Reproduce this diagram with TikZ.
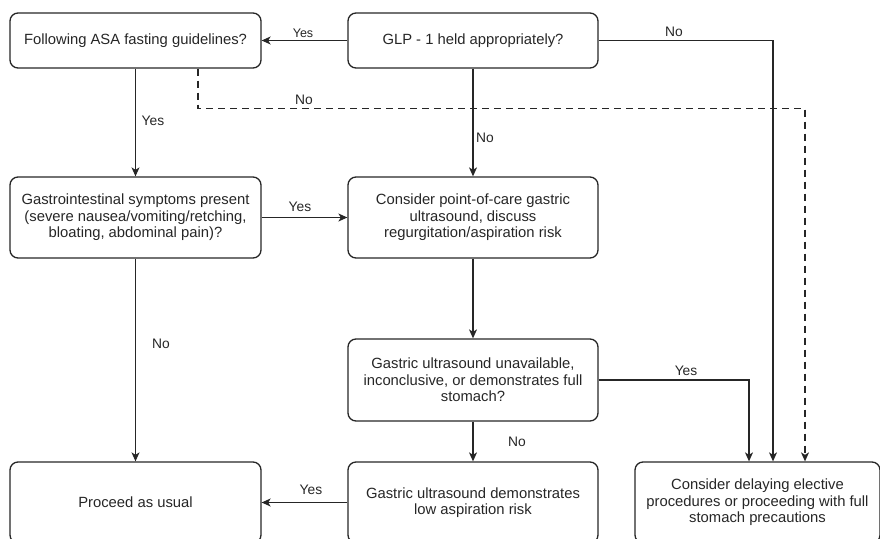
\documentclass[tikz,border=0pt]{standalone}
\usepackage{fontspec}
\setmainfont{Liberation Sans}
\usetikzlibrary{arrows.meta,positioning,calc}

\begin{document}
\begin{tikzpicture}[x=1pt,y=-1pt,
    box/.style={draw=black!85, line width=1.3pt, rounded corners=8pt, align=center,
        text=black!85, font=\fontsize{14.8}{16.6}\selectfont, inner sep=2pt},
    arr/.style={draw=black!85, line width=1.2pt, -{Stealth[length=9pt,width=8pt,inset=2.5pt]}},
    lbl/.style={text=black!85, font=\fontsize{13.8}{15}\selectfont, inner sep=0pt}]
    \clip (0,0) rectangle (880,538);
    \node[box, minimum width=251pt, minimum height=55pt] (asa) at (135.5,40.5) {Following ASA fasting guidelines?};
    \node[box, minimum width=250pt, minimum height=55pt] (glp) at (473,40.5) {GLP - 1 held appropriately?};
    \node[box, minimum width=251pt, minimum height=81pt] (gisx) at (135.5,217.5) {Gastrointestinal symptoms present\\(severe nausea/vomiting/retching,\\bloating, abdominal pain)?};
    \node[box, minimum width=250pt, minimum height=81pt] (pocus) at (473,217.5) {Consider point-of-care gastric\\ultrasound, discuss\\regurgitation/aspiration risk};
    \node[box, minimum width=250pt, minimum height=82pt] (full) at (473,380) {Gastric ultrasound unavailable,\\inconclusive, or demonstrates full\\stomach?};
    \node[box, minimum width=251pt, minimum height=81pt] (usual) at (135.5,502.5) {Proceed as usual};
    \node[box, minimum width=250pt, minimum height=81pt] (low) at (473,502.5) {Gastric ultrasound demonstrates\\low aspiration risk};
    \node[box, minimum width=245pt, minimum height=81pt] (delay) at (757.5,502.5) {Consider delaying elective\\procedures or proceeding with full\\stomach precautions};

    \draw[arr] (glp) -- (asa);
    \draw[arr] (glp.east) -| ([xshift=15.5pt]delay.north);
    \draw[arr, dashed, dash pattern=on 7pt off 5pt] ([xshift=62.5pt]asa.south) -- ++(0,40) -| ([xshift=47.5pt]delay.north);
    \draw[arr] (asa) -- (gisx);
    \draw[arr] (glp) -- (pocus);
    \draw[arr] (gisx) -- (pocus);
    \draw[arr] (pocus) -- (full);
    \draw[arr] (gisx) -- (usual);
    \draw[arr] (full.east) -| ([xshift=-8.5pt]delay.north);
    \draw[arr] (full) -- (low);
    \draw[arr] (low) -- (usual);

    \node[lbl, font=\fontsize{12.5}{14}\selectfont] (yes1) at (303,33) {Yes};
    \node[lbl] (no1) at (674,32) {No};
    \node[lbl] (yes2) at (153,121) {Yes};
    \node[lbl] (no2) at (304,100) {No};
    \node[lbl] (no3) at (485,138) {No};
    \node[lbl] (yes3) at (300,207) {Yes};
    \node[lbl] (no4) at (161,344) {No};
    \node[lbl] (yes4) at (686,371) {Yes};
    \node[lbl] (no5) at (517,442) {No};
    \node[lbl] (yes5) at (311,490) {Yes};
\end{tikzpicture}
\end{document}
